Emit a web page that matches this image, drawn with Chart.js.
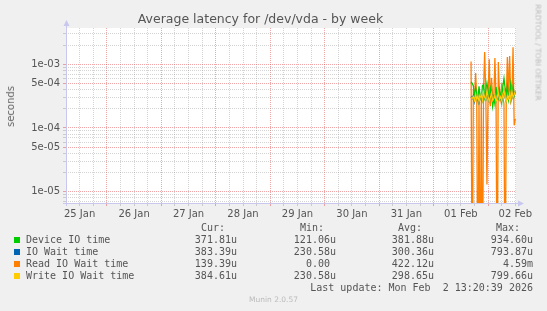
<!DOCTYPE html>
<html>
<head>
<meta charset="utf-8">
<script src="https://cdn.jsdelivr.net/npm/chart.js@4.4.1/dist/chart.umd.min.js"></script>
<style>
  body { margin: 0; background: #f0f0f0; }
  #wrap { position: relative; width: 547px; height: 311px; overflow: hidden; font-family: "DejaVu Sans", sans-serif; }
  canvas { position: absolute; left: 0; top: 0; }
  .t { position: absolute; white-space: pre; }
  .mono { font-family: "DejaVu Sans Mono", monospace; font-size: 10px; color: #555; line-height: 12px; }
</style>
</head>
<body>
<div id="wrap">
  <canvas id="chart" width="547" height="311"></canvas>
  <div class="t" id="title" style="left:0;width:521px;text-align:center;top:11px;font-size:12.5px;color:#555;">Average latency for /dev/vda - by week</div>
  <div class="t" style="left:5px;top:86px;writing-mode:vertical-rl;transform:rotate(180deg);font-size:10px;color:#666;">seconds</div>
  <div class="t" style="left:488px;top:48px;width:100px;text-align:center;font-size:7.5px;color:#bbb;transform:rotate(90deg);">RRDTOOL / TOBI OETIKER</div>
  <div class="t" style="left:0;width:547px;text-align:center;top:295px;font-size:7.5px;color:#bbb;">Munin 2.0.57</div>
  <div id="legend"></div>
</div>
<script>
// time axis in hours since 25 Jan 00:00
var dayLabels = ['25 Jan', '26 Jan', '27 Jan', '28 Jan', '29 Jan', '30 Jan', '31 Jan', '01 Feb', '02 Feb'];

var sampleHours = [184.5, 185, 185.5, 186, 186.5, 187, 187.5, 188, 188.5, 189,
  189.5, 190, 190.5, 191, 191.5, 192, 192.5, 193, 193.5, 194,
  194.5, 195, 195.5, 196, 196.5, 197, 197.5, 198, 198.5, 199,
  199.5, 200, 200.5, 201, 201.5, 202, 202.5, 203, 203.5, 204];

var deviceIO = [5.3e-4, 5.0e-4, 4.6e-4, 3.0e-4, 4.2e-4, 3.4e-4, 2.7e-4, 4.5e-4, 3.2e-4, 2.8e-4,
  4.6e-4, 4.8e-4, 3.0e-4, 3.6e-4, 5.0e-4, 3.8e-4, 2.6e-4, 4.2e-4, 3.5e-4, 2.2e-4,
  3.0e-4, 2.4e-4, 4.4e-4, 3.2e-4, 2.9e-4, 4.0e-4, 3.3e-4, 2.5e-4, 4.5e-4, 6.0e-4,
  4.2e-4, 3.4e-4, 4.6e-4, 2.8e-4, 3.6e-4, 5.0e-4, 3.4e-4, 4.4e-4, 3.2e-4, 3.72e-4];

var ioWait = [3.1e-4, 2.9e-4, 3.2e-4, 2.6e-4, 3.3e-4, 2.8e-4, 3.1e-4, 2.5e-4, 3.0e-4, 3.2e-4,
  2.7e-4, 3.5e-4, 3.0e-4, 2.8e-4, 3.8e-4, 3.0e-4, 2.6e-4, 3.1e-4, 3.4e-4, 2.7e-4,
  2.9e-4, 3.2e-4, 2.6e-4, 3.0e-4, 3.5e-4, 2.8e-4, 3.1e-4, 2.7e-4, 3.3e-4, 3.9e-4,
  3.0e-4, 2.6e-4, 3.2e-4, 2.9e-4, 3.4e-4, 2.7e-4, 3.7e-4, 3.0e-4, 3.3e-4, 3.83e-4];

var readWait = [1.1e-3, 0, 4.0e-4, 2.5e-4, 7.3e-4, 3.0e-4, 0, 2.8e-4, 0, 3.5e-4,
  0, 4.0e-4, 1.55e-3, 3.0e-4, 1.3e-5, 3.5e-4, 1.2e-3, 2.2e-4, 6.1e-4, 3.2e-4,
  2.6e-4, 1.25e-3, 3.0e-4, 0, 1.08e-3, 3.5e-4, 2.8e-4, 5.0e-4, 3.0e-4, 2.4e-4,
  0, 2.8e-4, 1.3e-3, 3.2e-4, 1.35e-3, 2.6e-4, 3.0e-4, 1.85e-3, 1.1e-4, 1.39e-4];

var writeWait = [3.0e-4, 2.9e-4, 3.1e-4, 2.7e-4, 3.4e-4, 2.8e-4, 3.2e-4, 2.6e-4, 3.0e-4, 3.3e-4,
  2.7e-4, 3.6e-4, 3.0e-4, 2.8e-4, 3.9e-4, 3.1e-4, 2.6e-4, 3.0e-4, 3.5e-4, 2.7e-4,
  2.9e-4, 3.3e-4, 2.6e-4, 3.0e-4, 3.6e-4, 2.8e-4, 3.1e-4, 2.7e-4, 3.4e-4, 4.0e-4,
  3.0e-4, 2.6e-4, 3.2e-4, 2.9e-4, 3.5e-4, 2.7e-4, 3.8e-4, 3.0e-4, 3.3e-4, 3.85e-4];

var seriesNames = ['Device IO time', 'IO Wait time', 'Read IO Wait time', 'Write IO Wait time'];
var seriesColors = ['#00cc00', '#0066b3', '#ff8000', '#ffcc00'];
var curVals = ['371.81u', '383.39u', '139.39u', '384.61u'];
var minVals = ['121.06u', '230.58u', '0.00 ', '230.58u'];
var avgVals = ['381.88u', '300.36u', '422.12u', '298.65u'];
var maxVals = ['934.60u', '793.87u', '4.59m', '799.66u'];

var yMin = 6.65e-6, yMax = 3.7e-3;
var xMin = 6, xMax = 204.3;

var gridGray = 'rgba(120,120,120,0.32)';
var gridRed = 'rgba(225,60,60,0.45)';

// zero readings sit below the log axis; push them under the bottom so the line drops off
function pts(vals) {
  return vals.map(function(v, i) {
    return { x: sampleHours[i], y: v === 0 ? 1e-7 : v };
  });
}

function mant(v) {
  var e = Math.floor(Math.log10(v) + 1e-9);
  return { m: Math.round(v / Math.pow(10, e)), e: e };
}

// lower order is drawn on top: orange at the back, yellow in front
var drawOrder = [2, 1, 3, 0];
var datasets = [deviceIO, ioWait, readWait, writeWait].map(function(vals, i) {
  return {
    label: seriesNames[i],
    data: pts(vals),
    borderColor: seriesColors[i],
    borderWidth: 1.3,
    pointRadius: 0,
    fill: false,
    tension: 0,
    order: drawOrder[i]
  };
});

var frame = {
  id: 'frame',
  beforeDraw: function(chart) {
    var a = chart.chartArea, ctx = chart.ctx;
    ctx.save();
    ctx.fillStyle = '#ffffff';
    ctx.fillRect(a.left, a.top, a.right - a.left, a.bottom - a.top);
    ctx.restore();
  },
  afterDatasetsDraw: function(chart) {
    var a = chart.chartArea, ctx = chart.ctx;
    ctx.save();
    ctx.strokeStyle = '#c8c8ee';
    ctx.fillStyle = '#c8c8ee';
    ctx.lineWidth = 1;
    ctx.beginPath();
    ctx.moveTo(a.left + 0.5, a.bottom + 3);
    ctx.lineTo(a.left + 0.5, a.top - 3);
    ctx.moveTo(a.left - 3, a.bottom + 0.5);
    ctx.lineTo(a.right + 3, a.bottom + 0.5);
    ctx.stroke();
    ctx.beginPath();
    ctx.moveTo(a.left - 2.5, a.top - 2);
    ctx.lineTo(a.left + 3.5, a.top - 2);
    ctx.lineTo(a.left + 0.5, a.top - 8);
    ctx.closePath();
    ctx.fill();
    ctx.beginPath();
    ctx.moveTo(a.right + 2, a.bottom - 2.5);
    ctx.lineTo(a.right + 2, a.bottom + 3.5);
    ctx.lineTo(a.right + 8, a.bottom + 0.5);
    ctx.closePath();
    ctx.fill();
    ctx.restore();
  }
};

new Chart(document.getElementById('chart'), {
  type: 'line',
  data: { datasets: datasets },
  plugins: [frame],
  options: {
    responsive: false,
    animation: false,
    layout: { padding: { left: 0, top: 28, right: 31, bottom: 88 } },
    plugins: { legend: { display: false }, title: { display: false }, tooltip: { enabled: false } },
    scales: {
      x: {
        type: 'linear',
        min: xMin,
        max: xMax,
        afterBuildTicks: function(scale) {
          var t = [];
          for (var v = xMin; v <= xMax; v += 6) t.push({ value: v });
          scale.ticks = t;
        },
        afterFit: function(scale) { scale.height = 20; },
        grid: {
          color: function(ctx) { return ctx.tick && ctx.tick.value % 24 === 0 ? gridRed : gridGray; },
          lineWidth: 1,
          tickLength: 3,
          drawTicks: true
        },
        border: { display: false, dash: [1, 1] },
        ticks: {
          autoSkip: false,
          maxRotation: 0,
          padding: 2,
          color: '#555',
          font: { family: 'DejaVu Sans', size: 10 },
          callback: function(v) {
            return v % 24 === 12 ? dayLabels[(v - 12) / 24] : '';
          }
        }
      },
      y: {
        type: 'logarithmic',
        min: yMin,
        max: yMax,
        afterBuildTicks: function(scale) {
          var t = [];
          for (var e = -6; e <= -3; e++) {
            for (var m = 1; m <= 9; m++) {
              var v = m * Math.pow(10, e);
              if (v >= yMin && v <= yMax) t.push({ value: v });
            }
          }
          scale.ticks = t;
        },
        afterFit: function(scale) { scale.width = 66; },
        grid: {
          color: function(ctx) {
            if (!ctx.tick) return gridGray;
            var mm = mant(ctx.tick.value).m;
            return (mm === 1 || mm === 5) ? gridRed : gridGray;
          },
          lineWidth: 1,
          tickLength: 3
        },
        border: { display: false, dash: [1, 1] },
        ticks: {
          autoSkip: false,
          padding: 3,
          color: '#555',
          font: { family: 'DejaVu Sans', size: 10 },
          callback: function(v) {
            var r = mant(v);
            if (r.m !== 1 && r.m !== 5) return '';
            return r.m + 'e-' + String(-r.e).padStart(2, '0');
          }
        }
      }
    }
  }
});

// legend table below the plot
var legend = document.getElementById('legend');
function addText(txt, left, right, top, cls) {
  var d = document.createElement('div');
  d.className = 't ' + cls;
  d.textContent = txt;
  d.style.top = top + 'px';
  if (left !== null) d.style.left = left + 'px';
  if (right !== null) d.style.right = (547 - right) + 'px';
  legend.appendChild(d);
}
var headerEdges = [225, 324, 422, 520];
['Cur:', 'Min:', 'Avg:', 'Max:'].forEach(function(h, i) {
  addText(h, null, headerEdges[i], 222, 'mono');
});
var rowTops = [234, 246, 258, 270];
var colEdges = [237, 336, 434, 533];
seriesNames.forEach(function(name, i) {
  var sw = document.createElement('div');
  sw.style.cssText = 'position:absolute;left:14px;width:6px;height:6px;top:' + (rowTops[i] + 3) + 'px;background:' + seriesColors[i];
  legend.appendChild(sw);
  addText(name, 26, null, rowTops[i], 'mono');
  [curVals, minVals, avgVals, maxVals].forEach(function(col, j) {
    addText(col[i], null, colEdges[j], rowTops[i], 'mono');
  });
});
addText('Last update: Mon Feb  2 13:20:39 2026', null, 533, 282, 'mono');
</script>
</body>
</html>
